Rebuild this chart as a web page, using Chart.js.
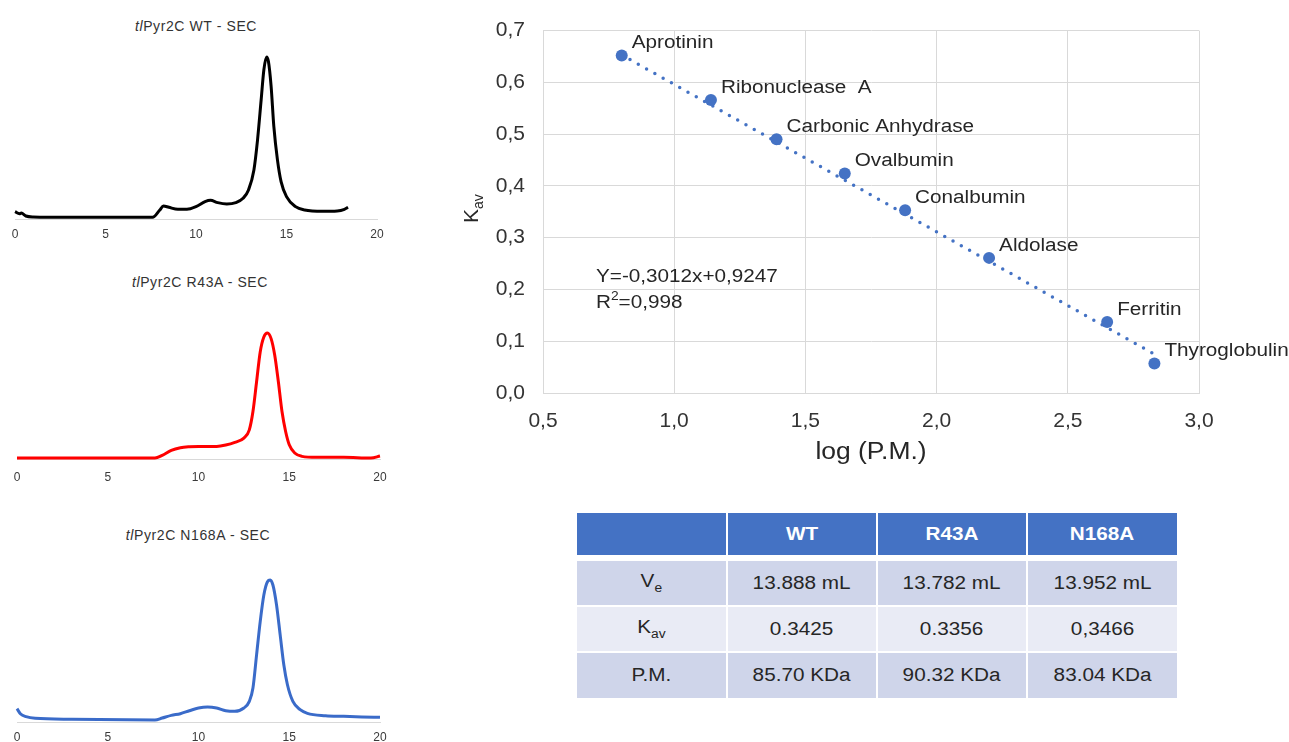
<!DOCTYPE html>
<html>
<head>
<meta charset="utf-8">
<script src="https://cdn.jsdelivr.net/npm/chart.js@4.4.1/dist/chart.umd.min.js"></script>
<style>
  html, body { margin: 0; padding: 0; background: #fff; }
  body { width: 1289px; height: 742px; position: relative; overflow: hidden; font-family: "Liberation Sans", Arial, sans-serif; }
  canvas { position: absolute; }
  .sec-title { position: absolute; width: 220px; text-align: center; font-size: 14px; line-height: 16px; color: #333; letter-spacing: 0.6px; }
  .tbl { position: absolute; left: 577px; top: 513px; width: 600px; font-size: 18px; color: #262626; }
  .row { display: grid; grid-template-columns: 149px 148px 148px 149px; column-gap: 2px; }
  .row div { display: flex; align-items: center; justify-content: center; }
  .row span { display: inline-block; transform: scaleX(1.15); }
  .hdr div { background: #4472C4; color: #fff; font-weight: bold; height: 42px; }
  .dark div { background: #CFD5EA; }
  .light div { background: #E9EBF5; }
  sub { font-size: 12px; vertical-align: -5px; }
</style>
</head>
<body>
<div class="sec-title" style="left:86px; top:18px;"><i>tl</i>Pyr2C WT - SEC</div>
<div class="sec-title" style="left:90px; top:274px;"><i>tl</i>Pyr2C R43A - SEC</div>
<div class="sec-title" style="left:88px; top:527px;"><i>tl</i>Pyr2C N168A - SEC</div>

<canvas id="wt" width="400" height="245" style="left:0px; top:0px; width:400px; height:245px;"></canvas>
<canvas id="r43" width="400" height="220" style="left:0px; top:265px; width:400px; height:220px;"></canvas>
<canvas id="n168" width="400" height="227" style="left:0px; top:515px; width:400px; height:227px;"></canvas>
<canvas id="main" width="829" height="480" style="left:460px; top:0px; width:829px; height:480px;"></canvas>

<div class="tbl" id="tbl"></div>

<script>
// ---------- SEC chromatograms (elution volume, mL vs. absorbance, arbitrary units) ----------
const wtX  = [0, 0.25, 0.35, 0.6, 1, 3, 5, 7.6, 8.0, 8.2, 8.5, 9.0, 9.5, 10.0, 10.5, 10.8, 11.2, 11.7, 12.2, 12.6, 12.9, 13.2, 13.4, 13.6, 13.75, 13.9, 14.0, 14.15, 14.3, 14.5, 14.7, 15.0, 15.5, 16.0, 17.0, 17.8, 18.2, 18.4];
const wtY  = [22, 16, 18, 9, 6, 5, 5, 5, 27, 39, 35, 29, 29, 37, 52, 56, 49, 45, 49, 62, 87, 147, 237, 357, 447, 485, 472, 397, 277, 177, 112, 67, 37, 27, 23, 24, 29, 35];

const r43X = [0, 3, 7.6, 8.0, 8.5, 9.0, 9.5, 10.0, 10.5, 11.0, 11.5, 12.0, 12.5, 12.8, 13.0, 13.2, 13.4, 13.6, 13.8, 14.0, 14.2, 14.4, 14.6, 14.8, 15.0, 15.3, 15.7, 16.5, 18.0, 19.5, 20.0];
const r43Y = [3, 3, 3, 11, 26, 34, 37, 38, 38, 38, 42, 50, 63, 88, 143, 233, 323, 368, 380, 363, 313, 233, 143, 83, 43, 18, 8, 5, 5, 3, 9];

const n168X = [0, 0.2, 0.5, 1.0, 3, 7.6, 8.0, 8.5, 9.0, 9.5, 10.0, 10.5, 11.0, 11.5, 12.0, 12.5, 12.8, 13.0, 13.2, 13.4, 13.6, 13.8, 13.95, 14.1, 14.3, 14.5, 14.7, 14.9, 15.2, 15.6, 16.0, 17.0, 18.0, 19.0, 20.0];
const n168Y = [40, 24, 16, 11, 8, 6, 12, 20, 25, 34, 42, 45, 42, 34, 32, 42, 62, 102, 202, 302, 382, 422, 427, 412, 352, 262, 172, 112, 62, 37, 26, 19, 17, 15, 14];

const secTicks = [0, 5, 10, 15, 20];

// ---------- Calibration curve ----------
const proteins = ['Aprotinin', 'Ribonuclease  A', 'Carbonic Anhydrase', 'Ovalbumin', 'Conalbumin', 'Aldolase', 'Ferritin', 'Thyroglobulin'];
const logPM    = [0.80, 1.14, 1.39, 1.65, 1.88, 2.20, 2.65, 2.83];
const kav      = [0.652, 0.566, 0.490, 0.424, 0.353, 0.261, 0.137, 0.057];
const trendX   = [0.80, 2.83];
const trendY   = [0.653, 0.075];
const equation = 'Y=-0,3012x+0,9247';
const r2Value  = '=0,998';

// ---------- Table ----------
const tableHeader = ['', 'WT', 'R43A', 'N168A'];
const tableRows = [
  ['V<sub>e</sub>', '13.888 mL', '13.782 mL', '13.952 mL'],
  ['K<sub>av</sub>', '0.3425', '0.3356', '0,3466'],
  ['P.M.', '85.70 KDa', '90.32 KDa', '83.04 KDa']
];

(function buildTable() {
  const t = document.getElementById('tbl');
  let html = '<div class="row hdr">' + tableHeader.map(h => '<div><span>' + h + '</span></div>').join('') + '</div>';
  const cls = ['dark', 'light', 'dark'];
  const heights = [44, 44, 45];
  tableRows.forEach((r, i) => {
    const mt = i === 0 ? 6 : 2;
    html += '<div class="row ' + cls[i] + '" style="margin-top:' + mt + 'px">' +
      r.map(c => '<div style="height:' + heights[i] + 'px"><span>' + c + '</span></div>').join('') + '</div>';
  });
  t.innerHTML = html;
})();

const FONT = '"Liberation Sans", Arial, sans-serif';
const STRETCH = 1.15;

function makeSEC(id, xs, ys, color, yMax, pad, axisH, tickPad) {
  new Chart(document.getElementById(id), {
    type: 'line',
    data: {
      datasets: [{
        data: xs.map((x, i) => ({ x: x, y: ys[i] })),
        borderColor: color,
        borderWidth: 3,
        pointRadius: 0,
        fill: false,
        cubicInterpolationMode: 'monotone',
        clip: false
      }]
    },
    options: {
      responsive: false,
      animation: false,
      events: [],
      layout: { padding: pad },
      plugins: { legend: { display: false }, tooltip: { enabled: false }, title: { display: false } },
      scales: {
        x: {
          type: 'linear', min: 0, max: 20,
          afterBuildTicks: s => { s.ticks = secTicks.map(v => ({ value: v })); },
          afterFit: s => { s.height = axisH; },
          grid: { display: false, drawTicks: false },
          border: { display: true, color: '#d9d9d9', width: 1 },
          ticks: { padding: tickPad, color: '#3a3a3a', font: { family: FONT, size: 12 }, maxRotation: 0 }
        },
        y: { type: 'linear', min: 0, max: yMax, display: false }
      }
    }
  });
}

makeSEC('wt',   wtX,   wtY,   '#000000', 485, { left: 15, right: 23, top: 57, bottom: 0 }, 26, 8);
makeSEC('r43',  r43X,  r43Y,  '#ff0000', 380, { left: 17, right: 20, top: 68, bottom: 0 }, 26, 11);
makeSEC('n168', n168X, n168Y, '#3a6bc9', 427, { left: 17, right: 20, top: 65, bottom: 0 }, 20, 8);

// ---------- Main calibration chart ----------
function stretchedText(ctx, text, x, y) {
  ctx.save();
  ctx.translate(x, y);
  ctx.scale(STRETCH, 1);
  ctx.fillText(text, 0, 0);
  const w = ctx.measureText(text).width * STRETCH;
  ctx.restore();
  return w;
}

const textPlugin = {
  id: 'texts',
  afterDatasetsDraw(chart) {
    const ctx = chart.ctx;
    const meta = chart.getDatasetMeta(0);
    ctx.save();
    ctx.fillStyle = '#262626';
    ctx.font = '18px ' + FONT;
    ctx.textAlign = 'left';
    ctx.textBaseline = 'middle';
    meta.data.forEach((pt, i) => {
      stretchedText(ctx, proteins[i], pt.x + 10, pt.y - 12);
    });
    // equation
    const ea = chart.chartArea;
    const ex = ea.left + 53;
    stretchedText(ctx, equation, ex, 277);
    const rw = stretchedText(ctx, 'R', ex, 303);
    ctx.font = '12px ' + FONT;
    const w2 = stretchedText(ctx, '2', ex + rw, 297);
    ctx.font = '18px ' + FONT;
    stretchedText(ctx, r2Value, ex + rw + w2, 303);
    // x-axis title
    ctx.font = '23px ' + FONT;
    ctx.textAlign = 'center';
    stretchedText(ctx, 'log (P.M.)', (ea.left + ea.right) / 2, 453);
    // y-axis title K_av
    ctx.translate(18, 223);
    ctx.rotate(-Math.PI / 2);
    ctx.textAlign = 'left';
    ctx.textBaseline = 'alphabetic';
    ctx.font = '21px ' + FONT;
    ctx.fillText('K', 0, 0);
    const kw = ctx.measureText('K').width;
    ctx.font = '14px ' + FONT;
    ctx.fillText('av', kw, 5);
    ctx.restore();
  }
};

new Chart(document.getElementById('main'), {
  type: 'scatter',
  data: {
    datasets: [
      {
        type: 'scatter',
        data: logPM.map((x, i) => ({ x: x, y: kav[i] })),
        backgroundColor: '#4472C4',
        borderColor: '#4472C4',
        pointRadius: 6,
        pointBorderWidth: 0,
        order: 0
      },
      {
        type: 'line',
        data: trendX.map((x, i) => ({ x: x, y: trendY[i] })),
        borderColor: '#4472C4',
        borderWidth: 3.5,
        borderDash: [0, 9.5],
        borderCapStyle: 'round',
        pointRadius: 0,
        fill: false,
        order: 1
      }
    ]
  },
  options: {
    responsive: false,
    animation: false,
    events: [],
    layout: { padding: { left: 0, right: 90, top: 28, bottom: 0 } },
    plugins: { legend: { display: false }, tooltip: { enabled: false } },
    scales: {
      x: {
        type: 'linear', min: 0.5, max: 3.0,
        afterFit: s => { s.height = 87; },
        grid: { color: '#d9d9d9', lineWidth: 1, drawTicks: false },
        border: { display: true, color: '#d9d9d9' },
        ticks: {
          stepSize: 0.5, padding: 16, color: '#333',
          font: { family: FONT, size: 21 },
          callback: v => v.toFixed(1).replace('.', ',')
        }
      },
      y: {
        type: 'linear', min: 0, max: 0.7,
        afterFit: s => { s.width = 83; },
        grid: { color: '#d9d9d9', lineWidth: 1, drawTicks: false },
        border: { display: true, color: '#d9d9d9' },
        ticks: {
          stepSize: 0.1, padding: 18, color: '#333',
          font: { family: FONT, size: 21 },
          callback: v => v.toFixed(1).replace('.', ',')
        }
      }
    }
  },
  plugins: [textPlugin]
});
</script>
</body>
</html>
